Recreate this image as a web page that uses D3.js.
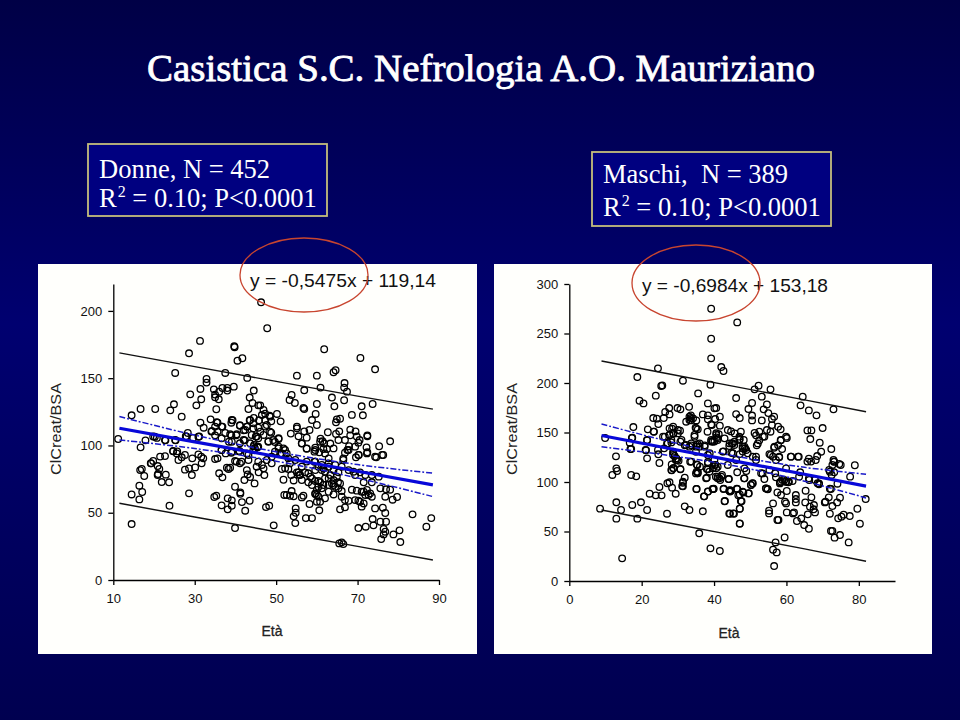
<!DOCTYPE html>
<html><head><meta charset="utf-8">
<script src="https://cdn.jsdelivr.net/npm/d3@7/dist/d3.min.js"></script>
<style>html,body{margin:0;padding:0;background:#000060}svg{display:block}text{white-space:pre}</style>
</head><body><svg id="c" width="960" height="720"></svg>
<script>
const titleText = "Casistica S.C. Nefrologia A.O. Mauriziano";
const womenEquation = "y = -0,5475x + 119,14";
const menEquation = "y = -0,6984x + 153,18";
const womenXTicks = [10,30,50,70,90];
const womenYTicks = [0,50,100,150,200];
const menXTicks = [0,20,40,60,80];
const menYTicks = [0,50,100,150,200,250,300];

// [età, ClCreat/BSA]
const womenPoints = [
[31.3,177.7],[28.6,168.5],[39.7,173.7],[39.8,173],[41.7,164.8],[40.5,163],[25.2,153.9],[37.5,153.9],[42.9,150.2],[32.9,149.4],[32.9,146.7],[31.4,142],[28.9,138],[34.7,141.7],[36,140],[36.8,142.7],[38,142.7],[38,140.8],[39.6,143.7],[44.5,140.8],[35,137.8],[35,135.8],[35.9,134.3],[31.6,134.3],[30.4,129.8],[24.9,130.6],[43.5,135.6],[44.2,131.6],[43.2,127.1],[45.6,129.8],[35.3,126.9],[24,126.1],[20.3,127.1],[16.7,127.1],[14.5,122.4],[26.8,121.4],[33.9,119.4],[39.3,118.7],[39,116.9],[44.5,120.4],[43.5,118.7],[31.4,116.9],[35.6,116.9],[32.2,113.2],[35,114],[36.8,114],[41.1,115],[42.9,114],[42,111.3],[34.1,110.3],[35.6,110.3],[37.5,109.3],[39,107.5],[40.2,107.5],[35,107.5],[28.3,109.3],[27.8,106.8],[29.6,105.6],[31.1,106.6],[42.3,103.8],[45.2,106.6],[38.4,102.8],[11.2,104.8],[17.9,103.8],[19.8,106.6],[20.7,105.6],[22.8,103.8],[25.3,103.8],[16.7,98.6],[24.7,95.6],[25.7,95.6],[36.6,96.6],[39,94.6],[40.8,95.6],[44.5,99.4],[45.4,99.1],
[46.3,206.4],[47.8,187.1],[61.8,171.5],[70.7,165],[74.3,156.6],[64.1,154.4],[64.6,155.9],[55.1,151.9],[60,151.9],[66.8,146.4],[66.7,143],[67.4,140],[60.9,143],[56.9,141],[53.8,137.5],[53.3,133.8],[54.6,131.6],[63.7,135.6],[66.7,133.6],[60,130.8],[64.3,129.1],[71,129.1],[73.7,130.8],[56.7,127.9],[56.9,127.1],[46.1,129.8],[46.9,126.4],[47.3,123.6],[59.7,123.4],[68.6,122.7],[71.3,122.4],[50.2,123.4],[48.4,122.2],[51.1,117.9],[48.8,117.9],[47.3,118.9],[45.8,118.7],[44.4,116.5],[45.6,113.2],[47.7,115.2],[58.8,118.9],[60,115.2],[64.9,119.4],[65.7,119.9],[64.7,117.2],[55.1,114],[55.1,112.7],[58.2,111.5],[56.9,110.5],[53.6,108.8],[48.8,109.5],[68.2,111.8],[69.5,110.5],[65.5,110.5],[62.7,109.8],[72.4,107.5],[72.4,106.8],[78,103.1],[75.3,99.4],[76.3,92.9],[74.6,91.2],[72.4,94.9],[72.2,98.6],[70.3,92.9],[69.6,91.2],[68.2,107.5],[66.9,104],[65.3,104],[64.7,108.5],[63.3,101.4],[60.9,105],[61.4,103.1],[61.8,101.4],[57.5,105.8],[55.5,106.8],[56.3,101.4],[69.8,106.6],[70.5,104],[70.2,102.1],[67.9,99.4],[67.5,96.6],[66.9,94.6],[62.5,97.4],[59.6,98.4],[57.5,97.6],[59.4,95.4],[50.6,104.8],[49.7,102.6],[48.1,103.1],[46.9,107.8],[45,106.6],[44.6,100.4],[45.4,98.6],
[17,82.5],[16.6,81.7],[17.6,77.3],[19.3,86.7],[20.9,84.7],[21.3,82.5],[21,78.8],[20.9,78],[22.9,78.3],[21.9,72.8],[23.7,72.6],[16.4,70.1],[17.1,65.4],[14.5,63.6],[16.4,59.9],[28.6,64.4],[23.8,55.2],[14.5,41.6],[27.6,82],[28.6,83],[30.1,83.7],[29.3,78],[31.7,86.7],[36,79.3],[36.8,76.3],[37.9,83.5],[38.3,82.5],[38.7,83.5],[39.9,69.3],[41.2,64.1],[41.2,65.1],[41.6,57.9],[34.8,61.7],[35.3,62.7],[38.1,60.7],[39.1,59.2],[36.6,55.5],[39.1,55.2],[38.1,52.5],[42.4,51.5],[43.5,58.9],[39.9,38.6],[42.2,74.3],[43,78.5],[42.8,81.7],[43.6,76.5],[44.7,71.8],[45.2,84.2],[45.7,80],[47.1,78],[46.9,83],[48.3,55.2],[47.5,54.2],[49.4,40.6],[51.4,82.5],[53,82.5],[51.8,74.5],[53.7,78],[54.3,74],[52,63.2],[52.6,63.2],[53.8,66.1],[53.4,62.6],[54.3,62.2],[56.7,62.7],[56.3,61.4],[54.8,53.2],[54.8,50],[54.3,47.3],[54.7,42.3],[57.3,46],[58.8,46],[58.2,56.5],[60,58.2],[60.8,58.2],[60.6,51.8],[59.6,63.9],[60,66.9],[60.4,61.9],[55.5,80],[55.9,78],[56.3,74.3],[57.9,72.6],[58.8,75.5],[57.9,79.3],[59.6,81.7],[60.4,73.6],[61.6,70.6],[61.2,81.7],[62,80.5],[62.9,75.5],[63.7,71.8],[64.5,69.3],[64.9,76.8],[65.7,71.8],[62.9,65.6],[62,60.7],[64.1,63.6],[66.1,66.1],[66.9,59.4],[67.8,58.9],[68.6,67.1],[69.8,66.4],[65.7,52.5],[66.9,54],[70.2,58.9],[71,54.5],[71.5,56.9],[71,65.6],[72.3,66.9],[73.1,64.4],[73.5,61.9],[71.9,63.2],[75.6,68.1],[77,67.4],[78,67.1],[76.8,61.9],[79.7,61.7],[78.6,59.7],[74.3,53.2],[76.2,53.7],[76.8,49.8],[83.5,48.8],[88.1,46],[86.9,39.6],[73.7,45.3],[75.6,43.3],[77,43.3],[73.9,40.6],[72,39.6],[70.2,38.6],[80.3,36.9],[78.8,33.9],[76.4,37.9],[76.8,35.9],[76.4,33.9],[75.8,30.4],[80.5,28.2],[65.5,27.2],[66.1,28],[66.5,26.7],[66.1,84.2],[67.8,81.7],[69,80.5],[70.6,80],[71.9,78],[73.5,78],[75.2,76.8],[73.5,72.6],[71.5,72.6],[69.4,78],[59.6,88],[61.2,85.5],[62.9,86.7],[64.5,85.5],[66.5,89.2],[56.3,84.2],[57.5,88],[58.8,70.6],[60.4,69.3],[64.1,74.3],[65.3,68.1],
[50.6,99.1],[51,94.1],[52.2,96.6],[53,90.4],[48.9,91.6],[47.7,89.2],[45.6,99.1],[44.4,96.6],[54.7,89.2],[57.5,97.8],[59.6,96.6],[62,94.1],[62.9,90.4],[66.5,90.4],[67.8,96.6],[70.2,92.9],[74.3,91.6],[76,92.9],[72.3,94.1],[69.4,99.1],[64.1,97.8],[60.8,102.8],[56.3,101.6],[21.5,91.7],[22.7,92.1],[24.7,95.9],[25.6,94.1],[27.6,92.9],[26,89.2],[29.4,90.4],[30.9,93.4],[31.6,91.6],[32.1,90.4],[35,89.9],[35.6,90.4],[37.6,94.1],[36.6,96.6],[39.1,95.4],[41,95.9],[43.2,89.2],[39.9,88.4],[41.1,86.7],[43.2,92.9],[35.4,117.2],[34.2,110.7],[36.6,114],[39.1,118.9],[38.7,108.3],[41.1,114.7],[42.8,114],[42.4,111.5],[44,107.8],[46.1,110.2],[43.6,118.9],[44.4,112.7],[46.5,122.6],[48.5,121.4],[47.3,114],[48.5,110.2],[49.3,104],[50.6,105.3],[48.1,102.8],[45.6,105.3],[42,104],[40.3,108.3],[39.1,102.8],[36.6,105.3],[30.9,106.5],[28,106.5],[25.2,104],[22.7,104],[20.2,106.5],[26.8,91.2],[19.2,86.8],[19.8,88.5],
[60.6,94.9],[61.6,97.4],[59.4,87.9],[60.4,84.2],[61.6,83],[62.9,84.2],[64.1,81.7],[65.3,80],[63.3,78],[62,75.5],[60.8,72.6],[59.6,73.6],[58.4,76.8],[57.1,80],[55.7,78],[55.1,80],[61.2,68.1],[62.9,70.6],[64.1,70.6],[65.2,72.6],[66.1,61.9],[59.6,64.4],[60,63.2],[71.5,65.6],[72.7,63.2],[70.6,58.2],[69.4,59.4],[51.4,94.1],[50.6,97.8],[51.8,97.8],[52.6,94.1],[49.7,95.4],[42.8,94.1],[44.8,97.8],[43.6,101.6],[41.1,101.6],[45.6,87.9],[46.5,85.5],[48.9,86.7],[53.4,86.7],[52.2,83],[40.3,87.9],[41.5,87.9]
];

const menPoints = [
[39.2,275],[39.2,244.7],[39.2,224.9],[24.5,214.8],[18.8,206],[31.4,202.3],[39,198.3],[25.4,197],[25.7,197.6],[23.9,187.2],[35.6,189.5],[19.4,182.1],[20.5,179.4],[38.3,179.4],[33.1,176],[27.6,174.7],[29.9,174.7],[30.7,173.4],[40.1,174.4],[26.5,170.7],[27.7,168.3],[26.1,164.6],[23.2,164.6],[24.2,164],[24.6,158.5],[33.6,167.3],[33.6,164.6],[36.9,168.3],[38.3,167.3],[38.3,163.3],[32.3,160.9],[33.6,162.2],[35.1,162.2],[39.4,157.5],[17.7,155.5],[34.9,154.8],[35.5,153.2],[21.7,153.2],[23.4,150.8],[28.4,153.8],[30.6,151.8],[30,149.1],[28.8,148.8],[27.7,147.4],[25.9,145.8],[38.2,150.8],[34.6,145.8],[9.9,144.4],[17.3,144.4],[21.5,142.1],[16.7,139.7],[30.7,140.7],[31.9,137],[37.4,137],[39.2,141],[39.6,140.7],[33.7,137],[35.5,138.3],[27.2,139],[28.2,140],[16.9,133.3],[21.2,132],[24.5,132.3],[12.9,125.9],[21.5,123.9],[28.7,130.6],[29.1,126.2],[35,130.6],[38.3,127.2],
[46.4,261.2],[42,216.1],[42.6,212.1],[52.3,197.3],[51.2,193.6],[55.6,193.6],[46.1,184.8],[53.2,186.2],[64.5,186.2],[63.9,177.4],[50.5,179.8],[54.6,178.4],[40.6,174.7],[66.2,172.3],[68.3,167.3],[73,173.4],[49.5,173.7],[53.7,173.4],[55,169.6],[46.1,168.6],[47.1,164.6],[41.6,166],[50.5,167.1],[50.5,162.2],[56.6,166],[56,163.6],[53.2,162.2],[40.3,163.6],[39.2,158.2],[41.6,156.9],[57.7,155.8],[56,157.5],[58.4,153.2],[54.6,152.5],[55.6,150.8],[52.5,150.8],[51.2,149.5],[51.6,147.1],[53.9,145.8],[47.4,150.8],[43.8,152.5],[44.7,151.1],[45.7,149.1],[70,154.5],[65.8,152.1],[66.9,152.1],[66.6,143.4],[69.2,139.7],[72.4,133.3],[69.6,130.6],[68.5,126.2],[60.1,144.4],[58.4,142.1],[57.7,137],[58.8,133.3],[56.6,134.6],[55.3,128.2],[61.2,125.6],[63.2,125.6],[52.5,142.1],[51.8,137],[41.3,148.4],[40.7,145.1],[39.6,141.4],[47.1,143.4],[48.2,142.4],[44.9,139],[44.2,136.3],[47.9,135.6],[48.6,134],[47.1,128.2],[42.6,130.9],[44.8,129.6],[51.6,125.6],[66.2,123.5],[73,122.2],[56.3,125.6],[58,124.9],
[13,113.8],[13.2,111.1],[11.9,107.1],[17.1,107.1],[18.5,105.7],[28.2,112.1],[28.7,113.8],[29.8,122.2],[30.7,113.2],[27.1,98.7],[27.7,99.7],[24.9,95],[28.4,94.3],[29.4,88.2],[31.4,100.4],[31.9,104.4],[31.2,96],[22.2,88.2],[23.9,86.5],[25.5,86.5],[13,79.5],[17.4,76.8],[19.8,79.5],[21.5,71.7],[14.3,71.7],[8.5,73.1],[13,63],[18.8,63],[27,68],[31.9,75.4],[33.2,71.7],[36.9,70.4],[35.2,93],[38.3,90.3],[37.3,85.5],[39.9,93.3],[42.9,80.5],[42.7,93.3],[44.4,91.6],[44.4,90.3],[46.3,93.3],[47.9,90.3],[49.6,88.6],[46.7,86.5],[47.6,80.5],[47.1,73.1],[44.4,68],[45.5,68],[47.1,57.9],[35.9,48.2],[35.5,109.8],[38,113.2],[37.8,103.7],[41,103.7],[41.7,102],[42.2,107.1],[44.1,103],[48.4,103.7],[48.9,111.1],[46.4,109.8],[35.4,117.2],[33.7,120.6],[38.3,118.9],[40.4,117.2],[40.6,113.8],[43.8,117.2],[48.4,113.8],[50.7,98.7],[50.2,97],[54.4,93.6],[54.8,93],[53.9,103],[53,108.8],[55.3,112.1],[56.9,108.8],[58.2,99.7],[59.4,102],[60.5,99.7],[61.7,101],[59.9,113.8],[57.1,122.2],[61.3,125.6],[63.4,125.6],[65.8,120.6],[66.8,120.6],[68.1,122.2],[73.2,120.6],[75,117.2],[72.7,117.2],[71.8,112.1],[73.2,109.8],[72.5,107.1],[78.9,116.9],[77.6,105.4],[74.1,98.3],[63.8,109.8],[66.3,102],[68.6,98.7],[69,97.7],
[74.6,118.2],[73.1,120.5],[72,110.4],[81.9,82.8],[79.6,73],[77.5,65.6],[75.8,67],[75.2,65],[74.3,63.3],[72,68],[72.7,75.7],[74,79.4],[74.8,84.2],[71.7,84.5],[70.8,80.1],[70.6,79.4],[72.3,92.9],[72,93.2],[67.9,69.3],[67.6,76.7],[67.5,72.4],[66.9,84.5],[66.5,75],[65.9,67.3],[65.2,79.4],[65.3,91.2],[64.9,56.5],[66.2,52.8],[64.1,63.3],[62.9,60.6],[62.6,86.8],[62.6,82.8],[62.6,79.4],[61.8,68.3],[62.1,69.3],[60.1,69.3],[59.9,78.4],[59.6,80.1],[58.5,86.8],[57.5,89.5],[60.1,90.9],[59.8,100.3],[58.2,98.6],[56.3,78.4],[55.2,71],[55.2,68.3],[57.5,61.6],[57.8,61.6],[59.5,44],[57,39],[56.3,31.6],[57.3,28.9],[56.6,15.1],[54.3,93.6],[54.8,92.6],[49.5,88.5],[50.6,98.6],[50.2,97],[48.1,89.5],[47.1,87.5],[46.4,92.9],[47.4,80.8],[43,80.8],[47.1,73],[45.3,68.3],[44.2,68.3],[47.1,58.2],[42.6,92.9],[44.2,91.2],[44.7,91.2],[39.8,92.9],[41.6,30.3],[39,33],[72.7,50.5],[72.3,50.5],[74.8,46.4],[73.3,43.8],[77.2,39],[80.3,57.9],[69,98.6],[67.9,102],[66.2,103.7],[63.5,105.4],[60.7,100.3],[58.9,102],[57.1,104.7],[53.4,108.7],[48.3,103.7],[41.5,103.7],[40.5,105.4],[44,103],
[24.9,119.2],[14.6,22.9],[31.4,99.3],[31.4,95.6],[35.1,92.9],[38.3,90.5],[37.2,85.5],[39.6,92.9],[28.3,111.8],[28.3,117.8],[30.7,112.8],[28.8,114.1],[29.4,122.2],[30.2,121.5],[33.4,120.5],[35.2,117.8],[36.1,115.5],[38.3,120.2],[35.2,110.4],[35,108.7],[38.3,112.8],[38,104.4],[38.7,110.4],
[17.4,144.8],[17.1,133.4],[21.5,142.4],[21.1,132.3],[23.3,150.9],[24.6,128],[26.2,134],[27,139],[28.2,142.4],[26.4,145.8],[28.7,149.2],[28.7,127.3],[30,152.5],[31,142.4],[32.3,137.4],[33.7,139],[35.1,135.7],[36,139],[37.4,135.7],[38.8,129],[40.6,147.5],[41,142.4],[42.9,144.1],[44.3,139],[45.6,137.4],[47,142.4],[48.4,135.7],[49.3,129],[50.7,125.6],[52.1,139],[53.5,145.8],[56.7,135.7],[58.5,142.4],[55.7,127.3],[58,125.6],[59.9,145.8],[47.9,130.7],[45.2,129],[42.4,130.7],[40.1,122.2],[46.1,122.2],[51.6,122.2],
[27.7,154.2],[28.7,155.9],[27.7,147.5],[33.2,166],[34.2,164.3],[33.2,162.6],[35.1,154.2],[34.6,147.5],[35.1,137.4],[36,135.7],[33.2,135.7],[40.6,149.2],[41,144.1],[40.1,140.8],[39.2,142.4],[45.2,139],[45.6,140.8],[47,145.8],[47.9,134],[48.9,132.3],[40.1,117.2],[41,115.5],[39.7,113.8],[41,105.4],[42,105.4],[35.5,108.8],[28.7,129],[29.6,123.9],[59.9,100.4],[58.5,100.4]
];

// regression & confidence / prediction bands
const womenBandX = [11.5,30,50,70,88.5];
const womenFit = [112.8,102.7,91.8,80.8,70.7];
const womenCIUp = [121.5,107.7,95.3,85.8,79.4];
const womenCILow = [104.1,97.7,88.3,75.8,62];
const womenPIUp = [168.8,158.6,147.6,136.7,127];
const womenPILow = [57,46.8,35.9,25,14.9];
const menBandX = [8.9,28,45.5,65,82];
const menFit = [147,133.6,121.4,107.8,95.9];
const menCIUp = [158.5,140.6,126.4,114.8,107.9];
const menCILow = [135.5,126.6,116.4,100.8,83.9];
const menPIUp = [222.2,208.9,196.6,183,171];
const menPILow = [71.7,58.3,46.1,32.5,20];

const svg = d3.select("#c");
const defs = svg.append("defs");
const g = defs.append("linearGradient").attr("id","bg").attr("x1",0).attr("y1",0).attr("x2",0).attr("y2",1);
g.append("stop").attr("offset",0).attr("stop-color","#000046");
g.append("stop").attr("offset",0.45).attr("stop-color","#000070");
g.append("stop").attr("offset",1).attr("stop-color","#000050");
svg.append("rect").attr("width",960).attr("height",720).attr("fill","url(#bg)");

svg.append("text").attr("x",147).attr("y",81).text(titleText)
  .attr("font-family","Liberation Serif").attr("font-size",38).attr("fill","#fff")
  .attr("stroke","#fff").attr("stroke-width",0.8)
  .attr("textLength",668).attr("lengthAdjust","spacingAndGlyphs");

function statBox(x,y,w,h,tx,line1,y1,y2){
  svg.append("rect").attr("x",x).attr("y",y).attr("width",w).attr("height",h)
    .attr("fill","#000080").attr("stroke","#c4bd7c").attr("stroke-width",1.8);
  const st={ff:"Liberation Serif",fs:26.5};
  svg.append("text").attr("x",tx).attr("y",y1).text(line1)
    .attr("font-family",st.ff).attr("font-size",st.fs).attr("fill","#fff");
  const t=svg.append("text").attr("x",tx).attr("y",y2).attr("font-family",st.ff).attr("font-size",st.fs).attr("fill","#fff");
  t.append("tspan").text("R");
  t.append("tspan").text("2").attr("font-size",16).attr("dy",-10).attr("dx",1);
  t.append("tspan").text(" = 0.10; P<0.0001").attr("dy",10);
}
statBox(88,144,239,72,99,"Donne, N = 452",178,207);
statBox(592,152,239,74,603,"Maschi,  N = 389",183,216);

function panel(o){
  svg.append("rect").attr("x",o.px).attr("y",264).attr("width",o.pw).attr("height",390).attr("fill","#fffffc");
  const x=d3.scaleLinear().domain(o.xd).range(o.xr);
  const y=d3.scaleLinear().domain(o.yd).range(o.yr);
  const gx=svg.append("g").attr("transform",`translate(0,${o.yr[0]})`)
    .call(d3.axisBottom(x).tickValues(o.xt).tickSize(5).tickSizeOuter(0).tickPadding(9));
  const gy=svg.append("g").attr("transform",`translate(${o.xr[0]},0)`)
    .call(d3.axisLeft(y).tickValues(o.yt).tickSize(5).tickSizeOuter(0).tickPadding(6));
  [gx,gy].forEach(a=>{
    a.selectAll("path,line").attr("stroke","#000").attr("stroke-width",1.3);
    a.selectAll("text").attr("font-family","Liberation Sans").attr("font-size",13).attr("fill","#111");
  });
  svg.append("g").selectAll("circle").data(o.pts).join("circle")
    .attr("cx",d=>x(d[0])).attr("cy",d=>y(d[1])).attr("r",3.3)
    .attr("fill","none").attr("stroke","#000").attr("stroke-width",1.3);
  const line=d3.line().x((d,i)=>x(o.bx[i])).y(d=>y(d));
  const curve=d3.line().x((d,i)=>x(o.bx[i])).y(d=>y(d)).curve(d3.curveCatmullRom);
  [o.piU,o.piL].forEach(a=>svg.append("path").attr("d",line(a)).attr("fill","none").attr("stroke","#111").attr("stroke-width",1.4));
  [o.ciU,o.ciL].forEach(a=>svg.append("path").attr("d",curve(a)).attr("fill","none").attr("stroke","#1a1ac8").attr("stroke-width",1.5).attr("stroke-dasharray","6,2,2,2"));
  svg.append("path").attr("d",line(o.fit)).attr("fill","none").attr("stroke","#0808d8").attr("stroke-width",3.2);
  svg.append("text").attr("x",o.eqx).attr("y",o.eqy).text(o.eq)
    .attr("font-family","Liberation Sans").attr("font-size",19).attr("fill","#111")
    .attr("textLength",186).attr("lengthAdjust","spacingAndGlyphs");
  svg.append("text").attr("transform",`translate(${o.ylx},${o.yly}) rotate(-90)`).attr("text-anchor","middle").text("ClCreat/BSA")
    .attr("font-family","Liberation Sans").attr("font-size",15).attr("fill","#222")
    .attr("textLength",92).attr("lengthAdjust","spacingAndGlyphs");
  svg.append("text").attr("x",o.xlx).attr("y",o.xly).attr("text-anchor","middle").text("Età")
    .attr("font-family","Liberation Sans").attr("font-size",14).attr("fill","#222")
    .attr("stroke","#222").attr("stroke-width",0.3);
  svg.append("ellipse").attr("cx",o.ex).attr("cy",o.ey).attr("rx",64).attr("ry",o.ery)
    .attr("fill","none").attr("stroke","#c8452f").attr("stroke-width",1.3);
}
panel({px:38,pw:439,xd:[10,90],xr:[113.3,439],yd:[0,220],yr:[580,284],xt:womenXTicks,yt:womenYTicks,pts:womenPoints,
  bx:womenBandX,fit:womenFit,ciU:womenCIUp,ciL:womenCILow,piU:womenPIUp,piL:womenPILow,
  eq:womenEquation,eqx:250,eqy:287,ylx:61,yly:429,xlx:272,xly:636,ex:304,ey:275,ery:37});
panel({px:494,pw:438,xd:[0,90],xr:[569.3,895],yd:[0,300],yr:[581,284],xt:menXTicks,yt:menYTicks,pts:menPoints,
  bx:menBandX,fit:menFit,ciU:menCIUp,ciL:menCILow,piU:menPIUp,piL:menPILow,
  eq:menEquation,eqx:642,eqy:292,ylx:517,yly:429,xlx:729,xly:638,ex:696,ey:283,ery:38});
</script></body></html>
